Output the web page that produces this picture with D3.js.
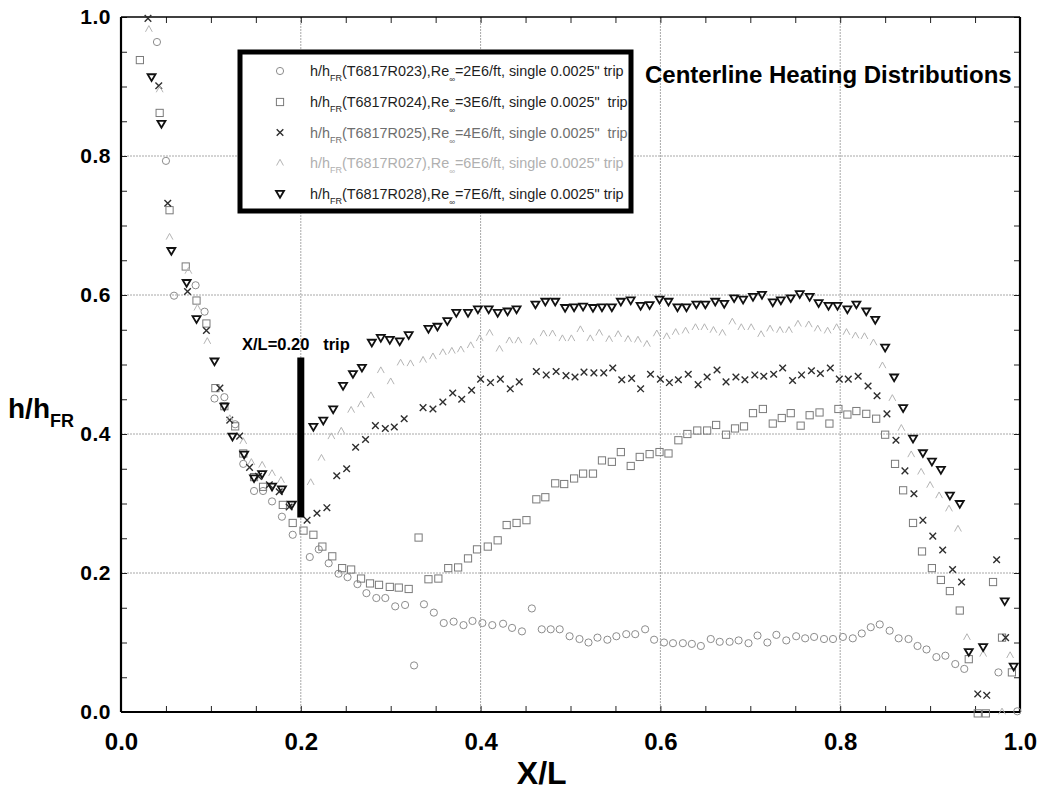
<!DOCTYPE html>
<html>
<head>
<meta charset="utf-8">
<script src="https://cdn.jsdelivr.net/npm/d3@7"></script>
<style>
  html, body { margin: 0; padding: 0; background: #fff; }
  svg { display: block; }
  text { font-family: "Liberation Sans", Arial, Helvetica, sans-serif; }
</style>
</head>
<body>
<svg id="chart" width="1037" height="793"></svg>
<script>
// Centerline heating ratio h/hFR versus X/L, five runs with a single trip at X/L = 0.20

const xTicks = [0.0, 0.2, 0.4, 0.6, 0.8, 1.0];
const yTicks = [0.0, 0.2, 0.4, 0.6, 0.8, 1.0];
const minorTicks = d3.range(0, 1.0001, 0.05);

// Run T6817R023, Re = 2E6/ft  (circles)
const r023 = [[0.040,0.964],[0.050,0.793],[0.059,0.599],[0.083,0.614],[0.093,0.576],[0.104,0.451],[0.115,0.453],[0.127,0.414],[0.136,0.357],[0.148,0.318],[0.158,0.318],[0.168,0.303],[0.179,0.281],[0.191,0.255],[0.210,0.223],[0.220,0.234],[0.231,0.214],[0.242,0.199],[0.252,0.194],[0.263,0.184],[0.273,0.171],[0.284,0.164],[0.294,0.164],[0.305,0.152],[0.316,0.154],[0.326,0.067],[0.337,0.155],[0.348,0.143],[0.359,0.128],[0.370,0.130],[0.381,0.125],[0.391,0.131],[0.402,0.128],[0.413,0.125],[0.425,0.127],[0.435,0.121],[0.446,0.116],[0.457,0.149],[0.468,0.119],[0.478,0.119],[0.488,0.119],[0.499,0.109],[0.510,0.105],[0.520,0.100],[0.530,0.107],[0.541,0.104],[0.551,0.109],[0.562,0.112],[0.572,0.112],[0.583,0.119],[0.593,0.104],[0.604,0.100],[0.614,0.099],[0.625,0.099],[0.635,0.098],[0.645,0.095],[0.656,0.105],[0.666,0.101],[0.677,0.101],[0.687,0.103],[0.698,0.099],[0.708,0.110],[0.719,0.100],[0.729,0.111],[0.740,0.103],[0.751,0.109],[0.761,0.106],[0.771,0.108],[0.782,0.105],[0.792,0.105],[0.803,0.108],[0.814,0.106],[0.824,0.113],[0.834,0.122],[0.844,0.126],[0.855,0.117],[0.865,0.106],[0.876,0.105],[0.886,0.095],[0.896,0.090],[0.907,0.079],[0.917,0.081],[0.928,0.069],[0.938,0.062],[0.976,0.057],[0.997,0.001]];

// Run T6817R024, Re = 3E6/ft  (squares)
const r024 = [[0.021,0.938],[0.043,0.862],[0.054,0.722],[0.072,0.641],[0.084,0.592],[0.095,0.559],[0.105,0.466],[0.115,0.440],[0.127,0.411],[0.136,0.372],[0.148,0.338],[0.158,0.324],[0.180,0.298],[0.191,0.272],[0.203,0.261],[0.214,0.255],[0.224,0.238],[0.235,0.224],[0.246,0.207],[0.256,0.205],[0.267,0.192],[0.277,0.185],[0.287,0.183],[0.299,0.180],[0.309,0.179],[0.320,0.177],[0.331,0.251],[0.342,0.191],[0.353,0.192],[0.364,0.207],[0.375,0.208],[0.386,0.221],[0.396,0.234],[0.408,0.238],[0.419,0.247],[0.429,0.269],[0.440,0.272],[0.451,0.276],[0.462,0.306],[0.472,0.309],[0.483,0.329],[0.493,0.328],[0.504,0.336],[0.514,0.343],[0.525,0.343],[0.535,0.362],[0.546,0.360],[0.556,0.374],[0.567,0.354],[0.577,0.367],[0.588,0.371],[0.599,0.374],[0.609,0.372],[0.620,0.391],[0.630,0.400],[0.641,0.405],[0.652,0.405],[0.662,0.413],[0.673,0.399],[0.683,0.408],[0.693,0.411],[0.703,0.430],[0.714,0.436],[0.725,0.415],[0.735,0.423],[0.745,0.430],[0.756,0.412],[0.766,0.427],[0.777,0.431],[0.788,0.415],[0.798,0.436],[0.808,0.428],[0.818,0.433],[0.829,0.429],[0.840,0.422],[0.850,0.399],[0.861,0.357],[0.870,0.319],[0.881,0.272],[0.891,0.231],[0.902,0.207],[0.912,0.190],[0.922,0.174],[0.933,0.146],[0.943,0.076],[0.953,-0.002],[0.962,-0.002],[0.970,0.187],[0.980,0.107],[0.991,0.057]];

// Run T6817R025, Re = 4E6/ft  (crosses)
const r025 = [[0.030,0.998],[0.042,0.901],[0.052,0.732],[0.074,0.605],[0.095,0.549],[0.110,0.466],[0.121,0.420],[0.132,0.397],[0.143,0.352],[0.153,0.339],[0.165,0.327],[0.176,0.317],[0.187,0.295],[0.207,0.276],[0.218,0.286],[0.229,0.294],[0.240,0.340],[0.251,0.350],[0.261,0.381],[0.272,0.392],[0.283,0.412],[0.294,0.408],[0.304,0.410],[0.315,0.422],[0.336,0.438],[0.347,0.436],[0.358,0.446],[0.369,0.459],[0.379,0.450],[0.390,0.463],[0.400,0.479],[0.411,0.474],[0.422,0.479],[0.433,0.465],[0.443,0.475],[0.462,0.490],[0.473,0.485],[0.484,0.490],[0.495,0.484],[0.505,0.482],[0.515,0.489],[0.526,0.488],[0.537,0.488],[0.547,0.495],[0.557,0.478],[0.568,0.480],[0.578,0.465],[0.589,0.486],[0.600,0.479],[0.610,0.474],[0.620,0.478],[0.631,0.486],[0.642,0.471],[0.652,0.482],[0.663,0.492],[0.673,0.475],[0.684,0.482],[0.694,0.478],[0.705,0.485],[0.715,0.483],[0.726,0.486],[0.736,0.495],[0.747,0.477],[0.757,0.485],[0.768,0.491],[0.778,0.487],[0.789,0.495],[0.799,0.479],[0.809,0.479],[0.820,0.483],[0.831,0.469],[0.841,0.455],[0.852,0.429],[0.862,0.391],[0.872,0.347],[0.882,0.314],[0.892,0.276],[0.903,0.253],[0.914,0.233],[0.925,0.205],[0.935,0.187],[0.953,0.026],[0.963,0.024],[0.974,0.219],[0.984,0.107]];

// Run T6817R027, Re = 6E6/ft  (carets)
const r027 = [[0.031,0.983],[0.043,0.896],[0.054,0.684],[0.075,0.635],[0.085,0.582],[0.096,0.534],[0.121,0.423],[0.136,0.390],[0.145,0.360],[0.157,0.356],[0.168,0.344],[0.178,0.334],[0.211,0.331],[0.223,0.366],[0.234,0.397],[0.245,0.405],[0.256,0.435],[0.267,0.443],[0.278,0.456],[0.289,0.492],[0.300,0.476],[0.311,0.503],[0.322,0.502],[0.336,0.507],[0.347,0.512],[0.358,0.518],[0.368,0.520],[0.378,0.522],[0.389,0.528],[0.399,0.538],[0.410,0.546],[0.421,0.523],[0.432,0.535],[0.442,0.535],[0.459,0.533],[0.470,0.545],[0.480,0.545],[0.491,0.538],[0.501,0.538],[0.511,0.551],[0.522,0.538],[0.532,0.546],[0.543,0.537],[0.553,0.544],[0.564,0.537],[0.575,0.536],[0.585,0.530],[0.596,0.545],[0.607,0.541],[0.617,0.547],[0.628,0.549],[0.639,0.554],[0.649,0.554],[0.659,0.550],[0.669,0.546],[0.680,0.562],[0.690,0.554],[0.701,0.554],[0.712,0.544],[0.722,0.552],[0.733,0.550],[0.743,0.550],[0.753,0.559],[0.765,0.558],[0.775,0.552],[0.786,0.549],[0.796,0.554],[0.807,0.547],[0.817,0.542],[0.827,0.541],[0.837,0.532],[0.847,0.499],[0.858,0.452],[0.868,0.409],[0.879,0.371],[0.890,0.346],[0.900,0.327],[0.910,0.312],[0.921,0.293],[0.931,0.264],[0.941,0.108],[0.959,0.084],[0.980,0.001],[0.989,0.082]];

// Run T6817R028, Re = 7E6/ft  (down triangles)
const r028 = [[0.034,0.913],[0.045,0.846],[0.056,0.663],[0.073,0.617],[0.084,0.565],[0.104,0.504],[0.115,0.439],[0.124,0.396],[0.137,0.370],[0.148,0.336],[0.157,0.342],[0.168,0.324],[0.179,0.320],[0.190,0.298],[0.214,0.410],[0.225,0.419],[0.236,0.435],[0.247,0.469],[0.258,0.486],[0.268,0.495],[0.279,0.531],[0.289,0.538],[0.299,0.535],[0.310,0.533],[0.320,0.542],[0.342,0.551],[0.352,0.554],[0.363,0.562],[0.373,0.574],[0.386,0.574],[0.397,0.579],[0.409,0.579],[0.419,0.574],[0.430,0.576],[0.440,0.579],[0.461,0.586],[0.472,0.590],[0.483,0.590],[0.494,0.581],[0.504,0.582],[0.514,0.583],[0.525,0.581],[0.535,0.582],[0.546,0.582],[0.556,0.590],[0.567,0.592],[0.578,0.584],[0.588,0.585],[0.599,0.593],[0.609,0.590],[0.619,0.582],[0.629,0.582],[0.640,0.586],[0.650,0.586],[0.661,0.590],[0.671,0.587],[0.682,0.595],[0.692,0.593],[0.703,0.597],[0.713,0.600],[0.725,0.589],[0.734,0.592],[0.745,0.595],[0.755,0.601],[0.766,0.597],[0.776,0.588],[0.787,0.584],[0.797,0.584],[0.808,0.579],[0.818,0.586],[0.829,0.576],[0.839,0.564],[0.850,0.524],[0.860,0.481],[0.870,0.437],[0.881,0.393],[0.892,0.372],[0.902,0.360],[0.912,0.348],[0.922,0.311],[0.933,0.299],[0.943,0.086],[0.959,0.093],[0.983,0.159],[0.993,0.065]];

const runIds = ["T6817R023", "T6817R024", "T6817R025", "T6817R027", "T6817R028"];
const reynolds = ["2E6/ft", "3E6/ft", "4E6/ft", "6E6/ft", "7E6/ft"];
const tripText = ["single 0.0025\" trip", "single 0.0025\"  trip", "single 0.0025\"  trip", "single 0.0025\" trip", "single 0.0025\" trip"];
const tripLocation = 0.20;
const tripBarRange = [0.28, 0.51];

const svg = d3.select("#chart");
const W = 1037, H = 793;
svg.append("rect").attr("width", W).attr("height", H).attr("fill", "#fff");

const x = d3.scaleLinear().domain([0, 1]).range([121, 1020]);
const y = d3.scaleLinear().domain([0, 1]).range([712, 17]);

// grid
const grid = svg.append("g").attr("stroke", "#a8a8a8").attr("stroke-width", 1).attr("stroke-dasharray", "2,1");
grid.selectAll("line.v").data(xTicks.slice(1, -1)).join("line")
  .attr("x1", d => x(d)).attr("x2", d => x(d)).attr("y1", y(0)).attr("y2", y(1));
grid.selectAll("line.h").data(yTicks.slice(1, -1)).join("line")
  .attr("y1", d => y(d)).attr("y2", d => y(d)).attr("x1", x(0)).attr("x2", x(1));

// minor inward ticks on all four sides
function minorAxis(axis, transform) {
  const g = svg.append("g").attr("transform", transform)
    .call(axis.tickValues(minorTicks).tickSize(-6).tickFormat(""));
  g.select(".domain").remove();
  g.selectAll(".tick line").attr("stroke", "#222").attr("stroke-width", 1);
}
minorAxis(d3.axisBottom(x), `translate(0,${y(0)})`);
minorAxis(d3.axisTop(x), `translate(0,${y(1)})`);
minorAxis(d3.axisLeft(y), `translate(${x(0)},0)`);
minorAxis(d3.axisRight(y), `translate(${x(1)},0)`);

// tick labels
const xLab = svg.append("g").attr("transform", `translate(0,${y(0)})`)
  .call(d3.axisBottom(x).tickValues(xTicks).tickFormat(d3.format(".1f")).tickSize(0).tickPadding(21));
xLab.select(".domain").remove();
xLab.selectAll("text").attr("font-size", 24).attr("font-weight", "bold")
  .attr("font-family", "'Liberation Sans Narrow', 'Liberation Sans', Arial, sans-serif").attr("fill", "#000");

const yLab = svg.append("g").attr("transform", `translate(${x(0)},0)`)
  .call(d3.axisLeft(y).tickValues(yTicks).tickFormat(d3.format(".1f")).tickSize(0).tickPadding(10));
yLab.select(".domain").remove();
yLab.selectAll("text").attr("font-size", 21).attr("font-weight", "bold").attr("fill", "#000")
  .attr("letter-spacing", 0.5);

// frame
svg.append("line").attr("x1", x(0)).attr("x2", x(1)).attr("y1", y(1)).attr("y2", y(1)).attr("stroke", "#000").attr("stroke-width", 1.5);
svg.append("line").attr("x1", x(0)).attr("x2", x(1)).attr("y1", y(0)).attr("y2", y(0)).attr("stroke", "#000").attr("stroke-width", 2.2);
svg.append("line").attr("x1", x(0)).attr("x2", x(0)).attr("y1", y(0)).attr("y2", y(1)).attr("stroke", "#000").attr("stroke-width", 2.2);
svg.append("line").attr("x1", x(1)).attr("x2", x(1)).attr("y1", y(0)).attr("y2", y(1)).attr("stroke", "#000").attr("stroke-width", 2.2);

// marker shapes
const shapes = {
  circle: (g) => g.append("circle").attr("r", 3.6),
  square: (g) => g.append("rect").attr("x", -3.6).attr("y", -3.6).attr("width", 7.2).attr("height", 7.2),
  cross: (g) => g.append("path").attr("d", "M-3.3,-3.3L3.3,3.3M-3.3,3.3L3.3,-3.3"),
  caret: (g) => g.append("path").attr("d", "M-3.4,3L0,-3.2L3.4,3"),
  down: (g) => g.append("path").attr("d", "M-4,-3.2L4,-3.2L0,3.6Z")
};
const styles = [
  { data: r023, shape: "circle", stroke: "#8c8c8c", width: 1.0, text: "#1e1e1e" },
  { data: r024, shape: "square", stroke: "#7a7a7a", width: 1.0, text: "#1e1e1e" },
  { data: r025, shape: "cross",  stroke: "#2e2e2e", width: 1.4, text: "#6e6e6e" },
  { data: r027, shape: "caret",  stroke: "#b4b4b4", width: 1.0, text: "#b0b0b0" },
  { data: r028, shape: "down",   stroke: "#111",    width: 1.8, text: "#1e1e1e" }
];

const marks = svg.append("g");
styles.forEach(s => {
  const sel = marks.append("g").attr("fill", "none").attr("stroke", s.stroke).attr("stroke-width", s.width)
    .selectAll("g").data(s.data).join("g")
    .attr("transform", d => `translate(${x(d[0])},${y(d[1])})`);
  sel.each(function () { shapes[s.shape](d3.select(this)); });
});

// trip annotation
svg.append("line").attr("x1", x(tripLocation)).attr("x2", x(tripLocation))
  .attr("y1", y(tripBarRange[0])).attr("y2", y(tripBarRange[1]))
  .attr("stroke", "#000").attr("stroke-width", 7);
svg.append("text").attr("x", 242).attr("y", 350).attr("font-size", 16.5).attr("font-weight", "bold")
  .style("white-space", "pre").text("X/L=0.20   trip");

// legend
svg.append("rect").attr("x", 240).attr("y", 52).attr("width", 391).attr("height", 159)
  .attr("fill", "#fff").attr("stroke", "#000").attr("stroke-width", 5);
const rowY = [71, 102, 132.5, 162.5, 194];
styles.forEach((s, i) => {
  const g = svg.append("g").attr("transform", `translate(280,${rowY[i]})`);
  const m = g.append("g").attr("fill", "none").attr("stroke", s.stroke).attr("stroke-width", s.width);
  shapes[s.shape](m);
  const t = g.append("text").attr("x", 30).attr("y", 5).attr("font-size", 14.4).attr("fill", s.text)
    .style("white-space", "pre");
  t.append("tspan").text("h/h");
  t.append("tspan").attr("font-size", 9).attr("dy", 5).text("FR");
  t.append("tspan").attr("dy", -5).text(`(${runIds[i]}),Re`);
  t.append("tspan").attr("font-size", 8).attr("dy", 6).text("\u221e");
  t.append("tspan").attr("dy", -6).text(`=${reynolds[i]}, ${tripText[i]}`);
});

// title
svg.append("text").attr("x", 645).attr("y", 83).attr("font-size", 24).attr("font-weight", "bold")
  .text("Centerline Heating Distributions");

// axis titles
const yt = svg.append("text").attr("x", 8).attr("y", 418).attr("font-size", 28).attr("font-weight", "bold");
yt.append("tspan").text("h/h");
yt.append("tspan").attr("font-size", 18).attr("dy", 9).text("FR");

svg.append("text").attr("x", x(0.468)).attr("y", 784).attr("text-anchor", "middle")
  .attr("font-size", 32).attr("font-weight", "bold")
  .attr("font-family", "'Liberation Sans Narrow', 'Liberation Sans', Arial, sans-serif")
  .text("X/L");
</script>
</body>
</html>
